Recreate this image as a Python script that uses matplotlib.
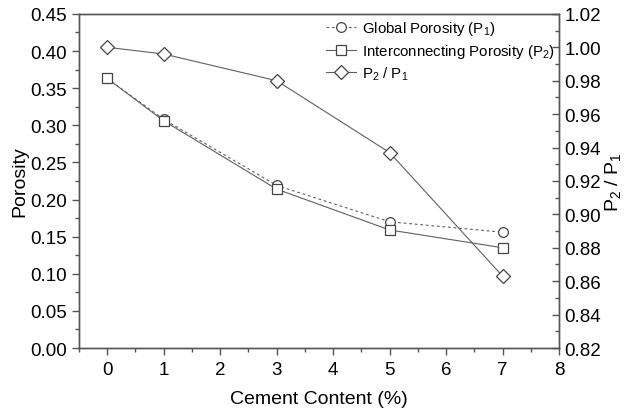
import numpy as np
import matplotlib
matplotlib.use("Agg")
import matplotlib.pyplot as plt
from matplotlib.ticker import MultipleLocator, FormatStrFormatter

plt.rcParams['font.family'] = ['Liberation Sans', 'DejaVu Sans']
plt.rcParams['mathtext.default'] = 'regular'

# data
cement = [0, 1, 3, 5, 7]
global_por = [0.363, 0.308, 0.219, 0.170, 0.156]
inter_por = [0.363, 0.306, 0.214, 0.159, 0.135]
ratio = [1.000, 0.996, 0.980, 0.937, 0.863]

line_col = '#606060'
edge_col = '#444444'

fig = plt.figure(figsize=(6.3, 4.14), dpi=100)
ax = fig.add_axes([0.1254, 0.157, 0.762, 0.807])
ax2 = ax.twinx()

l1, = ax.plot(cement, global_por, linestyle=(0, (2.5, 2.5)), color=line_col, lw=0.8,
              marker='o', ms=7, mfc='white', mec=edge_col, mew=0.9,
              label='Global Porosity (P$_1$)')
l2, = ax.plot(cement, inter_por, linestyle='-', color=line_col, lw=0.8,
              marker='s', ms=7, mfc='white', mec=edge_col, mew=0.9,
              label='Interconnecting Porosity (P$_2$)')
l3, = ax2.plot(cement, ratio, linestyle='-', color=line_col, lw=0.8,
               marker='D', ms=7.5, mfc='white', mec=edge_col, mew=0.9,
               label='P$_2$ / P$_1$')

ax.set_xlim(-0.5, 8)
ax.set_ylim(0, 0.45)
ax2.set_ylim(0.82, 1.02)

ax.xaxis.set_major_locator(MultipleLocator(1))
ax.xaxis.set_minor_locator(MultipleLocator(0.5))
ax.yaxis.set_major_locator(MultipleLocator(0.05))
ax.yaxis.set_minor_locator(MultipleLocator(0.025))
ax2.yaxis.set_major_locator(MultipleLocator(0.02))
ax2.yaxis.set_minor_locator(MultipleLocator(0.01))
ax.yaxis.set_major_formatter(FormatStrFormatter('%.2f'))
ax2.yaxis.set_major_formatter(FormatStrFormatter('%.2f'))

for a in (ax, ax2):
    for s in a.spines.values():
        s.set_color('#555555')
        s.set_linewidth(1.0)

ax.tick_params(axis='both', which='major', direction='out', length=5, width=1,
               color='#555555', labelsize=13.5, top=False, pad=4)
ax.tick_params(axis='both', which='minor', direction='out', length=3, width=1,
               color='#555555', top=False)
ax2.tick_params(axis='y', which='major', direction='in', length=5, width=1,
                color='#555555', labelsize=13.5, pad=4)
ax2.tick_params(axis='y', which='minor', direction='in', length=3, width=1,
                color='#555555')

ax.set_xlabel('Cement Content (%)', fontsize=14, labelpad=9)
ax.set_ylabel('Porosity', fontsize=14, labelpad=1)
ax2.set_ylabel('P$_2$ / P$_1$', fontsize=14, labelpad=1)

ax2.legend(handles=[l1, l2, l3], loc='upper right', bbox_to_anchor=(1.012, 1.015),
           frameon=False, fontsize=10.8, handlelength=2.0, handletextpad=0.4,
           labelspacing=0.3, borderaxespad=0.3)

fig.savefig('out.png', dpi=100)
